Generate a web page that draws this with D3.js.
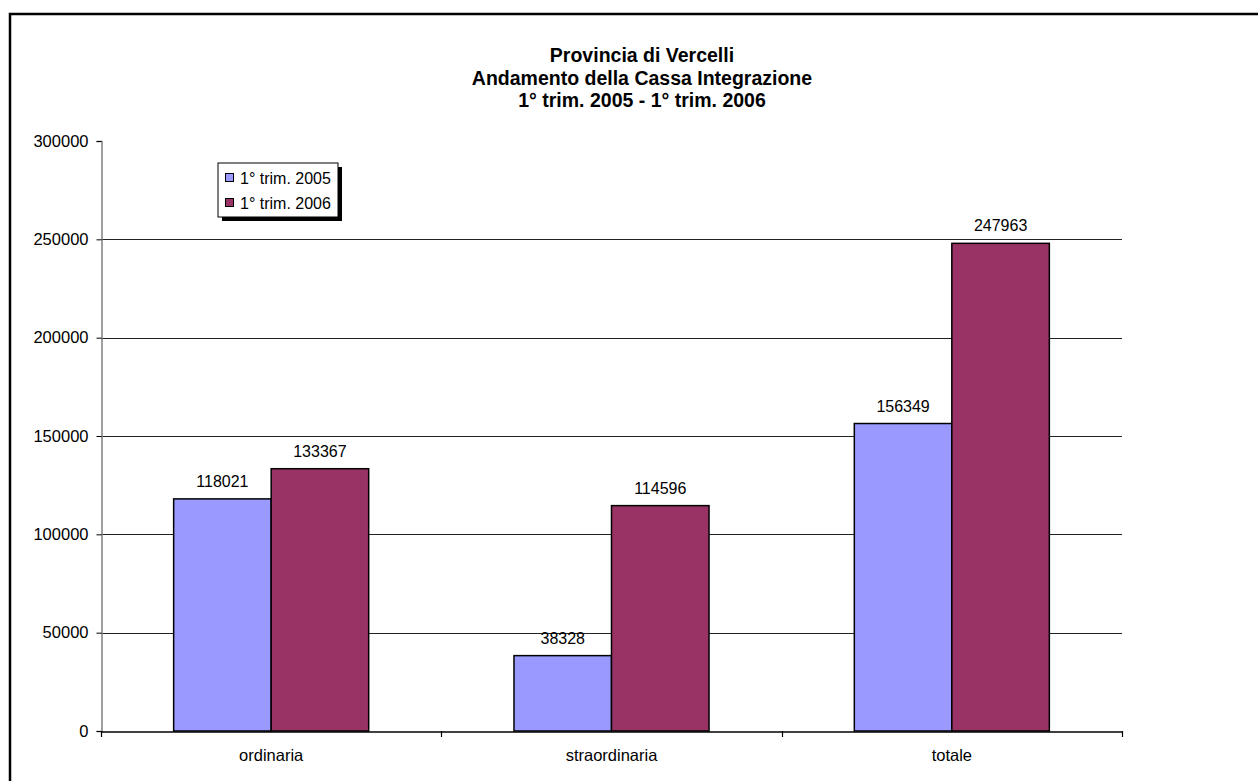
<!DOCTYPE html>
<html>
<head>
<meta charset="utf-8">
<script src="https://cdn.jsdelivr.net/npm/d3@7/dist/d3.min.js"></script>
<style>
  html, body { margin: 0; padding: 0; background: #fff; }
  svg { display: block; font-family: "Liberation Sans", Arial, sans-serif; }
</style>
</head>
<body>
<svg id="chart" width="1258" height="781"></svg>
<script>
const titleLines = ["Provincia di Vercelli", "Andamento della Cassa Integrazione", "1° trim. 2005 - 1° trim. 2006"];
const categories = ["ordinaria", "straordinaria", "totale"];
const seriesNames = ["1° trim. 2005", "1° trim. 2006"];
const values2005 = [118021, 38328, 156349];
const values2006 = [133367, 114596, 247963];
const yTicks = [0, 50000, 100000, 150000, 200000, 250000, 300000];
const colors = ["#9999FF", "#993366"];

(function () {
const svg = d3.select("#chart");

// outer frame
svg.append("rect").attr("x", 10).attr("y", 14).attr("width", 1270).attr("height", 800)
  .attr("fill", "none").attr("stroke", "#000").attr("stroke-width", 2.5);

const pLeft = 101, pRight = 1122, pTop = 141, pBottom = 731;
const x0 = d3.scaleBand().domain(categories).range([pLeft, pRight]).paddingInner(0).paddingOuter(0);
const x1 = d3.scaleBand().domain(seriesNames).range([0, x0.bandwidth()]).paddingInner(0).paddingOuter(0.745);
const y = d3.scaleLinear().domain([0, 300000]).range([pBottom, pTop]);

// title
const title = svg.append("text").attr("text-anchor", "middle").attr("font-weight", "bold")
  .attr("font-size", 19.5).attr("fill", "#000");
titleLines.forEach((t, i) => {
  title.append("tspan").attr("x", 642).attr("y", 62 + i * 22.5).text(t);
});

// gridlines
svg.append("g").selectAll("line").data(yTicks.filter(v => v > 0 && v < 300000)).join("line")
  .attr("x1", pLeft).attr("x2", pRight)
  .attr("y1", d => Math.round(y(d)) + 0.5).attr("y2", d => Math.round(y(d)) + 0.5)
  .attr("stroke", "#222").attr("stroke-width", 1);

// bars
const series = seriesNames.map((name, i) => ({ name, values: i === 0 ? values2005 : values2006, color: colors[i] }));
const rows = [];
series.forEach(s => categories.forEach((c, j) => rows.push({ cat: c, series: s.name, value: s.values[j], color: s.color })));

svg.append("g").selectAll("rect").data(rows).join("rect")
  .attr("x", d => x0(d.cat) + x1(d.series))
  .attr("y", d => y(d.value))
  .attr("width", x1.bandwidth())
  .attr("height", d => y(0) - y(d.value))
  .attr("fill", d => d.color)
  .attr("stroke", "#000").attr("stroke-width", 1.5);

// data labels
svg.append("g").selectAll("text").data(rows).join("text")
  .attr("x", d => x0(d.cat) + x1(d.series) + x1.bandwidth() / 2)
  .attr("y", d => y(d.value) - 12)
  .attr("text-anchor", "middle").attr("font-size", 16).attr("fill", "#000")
  .text(d => d.value);

// y axis
const yAxis = d3.axisLeft(y).tickValues(yTicks).tickSize(5).tickPadding(8).tickFormat(d => d);
const gy = svg.append("g").attr("transform", `translate(${pLeft + 0.5},0)`).call(yAxis);
gy.select(".domain").attr("stroke", "#808080").attr("stroke-width", 1.5);
gy.selectAll(".tick line").attr("stroke", "#000");
gy.selectAll(".tick text").attr("font-size", 16.5).attr("fill", "#000")
  .attr("font-family", "Liberation Sans, Arial, sans-serif");

// x axis
const gx = svg.append("g").attr("transform", `translate(0,${pBottom + 0.5})`)
  .call(d3.axisBottom(x0).tickSize(0).tickPadding(18));
gx.select(".domain").attr("stroke", "#000").attr("stroke-width", 1.5);
gx.selectAll(".tick text").attr("font-size", 16.5).attr("fill", "#000")
  .attr("font-family", "Liberation Sans, Arial, sans-serif");
// boundary ticks
const bounds = categories.map(c => x0(c)).concat([x0(categories[categories.length - 1]) + x0.bandwidth()]);
svg.append("g").selectAll("line").data(bounds).join("line")
  .attr("x1", d => Math.round(d) + 0.5).attr("x2", d => Math.round(d) + 0.5)
  .attr("y1", pBottom).attr("y2", pBottom + 6)
  .attr("stroke", "#000").attr("stroke-width", 1.2);

// legend
const lg = svg.append("g").attr("transform", "translate(218,163)");
lg.append("rect").attr("x", 4).attr("y", 4).attr("width", 120).attr("height", 54).attr("fill", "#000");
lg.append("rect").attr("x", 0).attr("y", 0).attr("width", 120).attr("height", 54)
  .attr("fill", "#fff").attr("stroke", "#000").attr("stroke-width", 1);
series.forEach((s, i) => {
  const yy = 15 + i * 25;
  lg.append("rect").attr("x", 7.5).attr("y", yy - 4.5).attr("width", 8).attr("height", 8)
    .attr("fill", s.color).attr("stroke", "#000").attr("stroke-width", 1);
  lg.append("text").attr("x", 22).attr("y", yy + 6).attr("font-size", 16).attr("fill", "#000").text(s.name);
});
})();
</script>
</body>
</html>
